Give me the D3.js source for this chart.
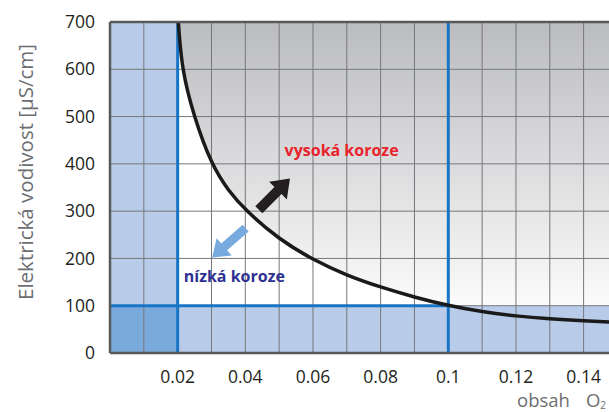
<!DOCTYPE html>
<html>
<head>
<meta charset="utf-8">
<script src="https://cdn.jsdelivr.net/npm/d3@7"></script>
<style>
  html, body { margin: 0; padding: 0; background: #fff; overflow: hidden; }
  svg { display: block; }
</style>
</head>
<body>
<div id="chart"></div>
<script>
// křivka: obsah O2 vs. elektrická vodivost
const CURVE_X = [0.0202, 0.0212, 0.0248, 0.03, 0.035, 0.04, 0.05, 0.06, 0.07, 0.08, 0.09, 0.10, 0.11, 0.12, 0.13, 0.14, 0.15];
const CURVE_Y = [700, 600, 500, 398, 343, 302, 240, 197, 164, 139, 118, 100, 87, 78, 72, 68, 65];

const X_TICKS = [0.02, 0.04, 0.06, 0.08, 0.1, 0.12, 0.14];
const Y_TICKS = [0, 100, 200, 300, 400, 500, 600, 700];
const X_GRID = [0.01, 0.02, 0.03, 0.04, 0.05, 0.06, 0.07, 0.08, 0.09, 0.1, 0.11, 0.12, 0.13, 0.14];
const Y_GRID = [100, 200, 300, 400, 500, 600];

// hranice (mezní hodnoty)
const LIMIT_X = [0.02, 0.1];
const LIMIT_Y = 100;

// šipky: [ocas, hrot] v jednotkách dat
const ARROW_HIGH = [[0.0440, 303], [0.0532, 369]];
const ARROW_LOW = [[0.0401, 264], [0.0302, 202]];

const LABELS = [
  { text: "vysoká koroze", x: 0.0516, y: 416, color: "#e8232b" },
  { text: "nízká koroze", x: 0.0218, y: 151, color: "#2e3192" },
];

const W = 609, H = 412;
const m = { t: 22, l: 110, b: 59 };
const font = "'Open Sans', 'Noto Sans', sans-serif";

const svg = d3.select("#chart").append("svg").attr("width", W).attr("height", H);

const x = d3.scaleLinear().domain([0, 0.15]).range([m.l, m.l + 0.15 * 3383]);
const y = d3.scaleLinear().domain([0, 700]).range([H - m.b, m.t]);

const defs = svg.append("defs");
const grad = defs.append("linearGradient").attr("id", "gray").attr("gradientUnits", "userSpaceOnUse")
  .attr("x1", 0).attr("x2", 0).attr("y1", y(700)).attr("y2", y(100));
grad.append("stop").attr("offset", 0).attr("stop-color", "#bbbcbf");
grad.append("stop").attr("offset", 1).attr("stop-color", "#fbfbfb");

const pts = CURVE_X.map((v, i) => ({ x: v, y: CURVE_Y[i] }));
const smooth = d3.curveBasis;

// šedá oblast nad křivkou
const area = d3.area().x(d => x(d.x)).y0(d => y(Math.max(d.y, LIMIT_Y))).y1(y(700)).curve(smooth);
svg.append("path").datum(pts).attr("fill", "url(#gray)").attr("d", area);

// modré oblasti
const blue = "#b8cce9", blueDark = "#7aa9db";
svg.append("rect").attr("x", x(0)).attr("y", y(700)).attr("width", x(0.02) - x(0)).attr("height", y(100) - y(700)).attr("fill", blue);
svg.append("rect").attr("x", x(0)).attr("y", y(100)).attr("width", x(0.15) - x(0)).attr("height", y(0) - y(100)).attr("fill", blue);
svg.append("rect").attr("x", x(0)).attr("y", y(100)).attr("width", x(0.02) - x(0)).attr("height", y(0) - y(100)).attr("fill", blueDark);

// mřížka
svg.append("g").selectAll("line").data(X_GRID).join("line")
  .attr("x1", d => x(d)).attr("x2", d => x(d)).attr("y1", y(0)).attr("y2", y(700))
  .attr("stroke", "#76777a").attr("stroke-width", 1);
svg.append("g").selectAll("line").data(Y_GRID).join("line")
  .attr("x1", x(0)).attr("x2", x(0.15)).attr("y1", d => y(d)).attr("y2", d => y(d))
  .attr("stroke", "#76777a").attr("stroke-width", 1);

// mezní čáry
const lineBlue = "#1874c4";
svg.append("g").selectAll("line").data(LIMIT_X).join("line")
  .attr("x1", d => x(d)).attr("x2", d => x(d)).attr("y1", y(0)).attr("y2", y(700))
  .attr("stroke", lineBlue).attr("stroke-width", 3);
svg.append("line").attr("x1", x(0)).attr("x2", x(0.1)).attr("y1", y(LIMIT_Y)).attr("y2", y(LIMIT_Y))
  .attr("stroke", lineBlue).attr("stroke-width", 3);

// křivka
const line = d3.line().x(d => x(d.x)).y(d => y(d.y)).curve(smooth);
svg.append("path").datum(pts).attr("fill", "none").attr("stroke", "#1b1a1a")
  .attr("stroke-width", 3.5).attr("d", line);

// osy
const axisCol = "#58595b";
svg.append("line").attr("x1", x(0)).attr("x2", x(0.15)).attr("y1", y(0)).attr("y2", y(0)).attr("stroke", axisCol).attr("stroke-width", 2.5);
svg.append("line").attr("x1", x(0)).attr("x2", x(0.15)).attr("y1", y(700)).attr("y2", y(700)).attr("stroke", axisCol).attr("stroke-width", 2.5);
svg.append("line").attr("x1", x(0)).attr("x2", x(0)).attr("y1", y(0)).attr("y2", y(700)).attr("stroke", axisCol).attr("stroke-width", 2.5);

// popisky os
svg.append("g").selectAll("text").data(Y_TICKS).join("text")
  .attr("x", x(0) - 15).attr("y", d => y(d)).attr("dy", "0.35em").attr("text-anchor", "end")
  .attr("font-family", font).attr("font-size", 17.5).attr("fill", "#231f20").text(d => d);
svg.append("g").selectAll("text").data(X_TICKS).join("text")
  .attr("x", d => x(d)).attr("y", y(0) + 30).attr("text-anchor", "middle")
  .attr("font-family", font).attr("font-size", 17.5).attr("fill", "#231f20").text(d => d);

svg.append("text").attr("transform", `translate(33,${172}) rotate(-90)`).attr("text-anchor", "middle")
  .attr("font-family", font).attr("font-size", 20.5).attr("fill", "#6d6e71").text("Elektrická vodivost [µS/cm]");
const xt = svg.append("text").attr("x", 517).attr("y", 407)
  .attr("font-family", font).attr("font-size", 18.5).attr("fill", "#6d6e71").text("obsah");
xt.append("tspan").attr("dx", 16).text("O");
xt.append("tspan").attr("font-size", 10).attr("dy", 2).text("2");

// šipky
function arrow(p, color, shaft, head, headLen) {
  const [x0, y0] = [x(p[0][0]), y(p[0][1])], [x1, y1] = [x(p[1][0]), y(p[1][1])];
  const L = Math.hypot(x1 - x0, y1 - y0);
  const a = Math.atan2(y1 - y0, x1 - x0) * 180 / Math.PI;
  const s = shaft / 2, h = head / 2, b = L - headLen;
  const d = `M0,${-s}L${b},${-s}L${b},${-h}L${L},0L${b},${h}L${b},${s}L0,${s}Z`;
  svg.append("path").attr("d", d).attr("fill", color)
    .attr("transform", `translate(${x0},${y0}) rotate(${a})`);
}
arrow(ARROW_HIGH, "#231f20", 10, 25, 17);
arrow(ARROW_LOW, "#77abe0", 9, 23, 16);

// texty
svg.append("g").selectAll("text").data(LABELS).join("text")
  .attr("x", d => x(d.x)).attr("y", d => y(d.y)).attr("fill", d => d.color)
  .attr("font-family", font).attr("font-weight", "bold").attr("font-size", 16).text(d => d.text);
</script>
</body>
</html>
